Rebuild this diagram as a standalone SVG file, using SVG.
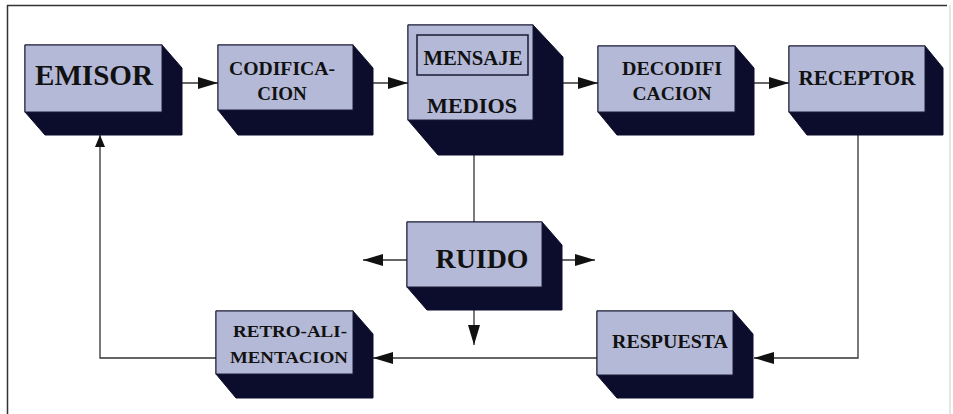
<svg xmlns="http://www.w3.org/2000/svg" width="953" height="414" viewBox="0 0 953 414">
<style>
.ext{fill:#0c0c2c;stroke:#0c0c2c;stroke-width:1}
.face{fill:#b4b9d7;stroke:#1a1a33;stroke-width:1}
.inner{fill:none;stroke:#1a1a33;stroke-width:1.5}
.lbl{font-family:"Liberation Serif","Times New Roman",serif;font-weight:bold;fill:#111;text-anchor:middle}
.con{fill:none;stroke:#333;stroke-width:1.3}
</style>
<defs>
<marker id="ah" markerUnits="userSpaceOnUse" markerWidth="20" markerHeight="12" refX="20" refY="6" orient="auto" viewBox="0 0 20 12">
<path d="M0,0 L20,6 L0,12 z" fill="#111"/>
</marker>
<marker id="ahs" markerUnits="userSpaceOnUse" markerWidth="12" markerHeight="10" refX="12" refY="5" orient="auto" viewBox="0 0 12 10">
<path d="M0,0 L12,5 L0,10 z" fill="#111"/>
</marker>
</defs>
<rect width="953" height="414" fill="#fff"/>
<g id="frame">
<line x1="7" y1="5.5" x2="947" y2="5.5" stroke="#333" stroke-width="1.5"/>
<line x1="7.5" y1="5" x2="7.5" y2="414" stroke="#333" stroke-width="1.5"/>
<line x1="950" y1="5" x2="950" y2="414" stroke="#ccc" stroke-width="1"/>
</g>
<g id="connectors">
<line class="con" x1="182" y1="83" x2="218" y2="83" marker-end="url(#ah)"/>
<line class="con" x1="373" y1="83" x2="408" y2="83" marker-end="url(#ah)"/>
<line class="con" x1="563" y1="83" x2="598" y2="83" marker-end="url(#ah)"/>
<line class="con" x1="754" y1="83" x2="789" y2="83" marker-end="url(#ah)"/>
<line class="con" x1="474" y1="155" x2="474" y2="222"/>
<line class="con" x1="474" y1="310" x2="474" y2="345" marker-end="url(#ah)"/>
<line class="con" x1="407" y1="260" x2="363" y2="260" marker-end="url(#ah)"/>
<line class="con" x1="562" y1="260" x2="595" y2="260" marker-end="url(#ah)"/>
<polyline class="con" points="858,135 858,358 754,358" marker-end="url(#ah)"/>
<line class="con" x1="597" y1="358" x2="373" y2="358" marker-end="url(#ah)"/>
<polyline class="con" points="216,358 100,358 100,135" marker-end="url(#ahs)"/>
</g>
<g id="emisor">
<polygon class="ext" points="25,45 162,45 182,68 182,135 45,135 25,112"/>
<rect class="face" x="25" y="45" width="137" height="67"/>
<text class="lbl" x="94" y="85" font-size="29" textLength="118" lengthAdjust="spacingAndGlyphs">EMISOR</text>
</g>
<g id="codificacion">
<polygon class="ext" points="218,45 353,45 373,68 373,135 238,135 218,110"/>
<rect class="face" x="218" y="45" width="135" height="65"/>
<text class="lbl" x="282" y="75" font-size="19" textLength="106" lengthAdjust="spacingAndGlyphs">CODIFICA-</text>
<text class="lbl" x="282" y="100" font-size="19">CION</text>
</g>
<g id="mensaje-medios">
<polygon class="ext" points="408,25 533,25 563,57 563,155 438,155 408,120"/>
<rect class="face" x="408" y="25" width="125" height="95"/>
<rect class="inner" x="417" y="35" width="111" height="40"/>
<text class="lbl" x="473" y="65" font-size="21" textLength="99" lengthAdjust="spacingAndGlyphs">MENSAJE</text>
<text class="lbl" x="472" y="113" font-size="22" textLength="90" lengthAdjust="spacingAndGlyphs">MEDIOS</text>
</g>
<g id="decodificacion">
<polygon class="ext" points="598,46 735,46 754,68 754,135 617,135 598,112"/>
<rect class="face" x="598" y="46" width="137" height="66"/>
<text class="lbl" x="672" y="75" font-size="19" textLength="100" lengthAdjust="spacingAndGlyphs">DECODIFI</text>
<text class="lbl" x="672" y="100" font-size="19" textLength="79" lengthAdjust="spacingAndGlyphs">CACION</text>
</g>
<g id="receptor">
<polygon class="ext" points="789,46 925,46 943,68 943,135 807,135 789,112"/>
<rect class="face" x="789" y="46" width="136" height="66"/>
<text class="lbl" x="857" y="85" font-size="21" textLength="117" lengthAdjust="spacingAndGlyphs">RECEPTOR</text>
</g>
<g id="ruido">
<polygon class="ext" points="407,222 542,222 562,245 562,310 427,310 407,287"/>
<rect class="face" x="407" y="222" width="135" height="65"/>
<text class="lbl" x="482" y="268" font-size="28" textLength="93" lengthAdjust="spacingAndGlyphs">RUIDO</text>
</g>
<g id="retroalimentacion">
<polygon class="ext" points="216,311 353,311 373,334 373,398 236,398 216,374"/>
<rect class="face" x="216" y="311" width="137" height="63"/>
<text class="lbl" x="290" y="337" font-size="17" textLength="114" lengthAdjust="spacingAndGlyphs">RETRO-ALI-</text>
<text class="lbl" x="289" y="363" font-size="17" textLength="118" lengthAdjust="spacingAndGlyphs">MENTACION</text>
</g>
<g id="respuesta">
<polygon class="ext" points="597,311 733,311 753,334 753,398 617,398 597,375"/>
<rect class="face" x="597" y="311" width="136" height="64"/>
<text class="lbl" x="670" y="348" font-size="19" textLength="116" lengthAdjust="spacingAndGlyphs">RESPUESTA</text>
</g>
</svg>
